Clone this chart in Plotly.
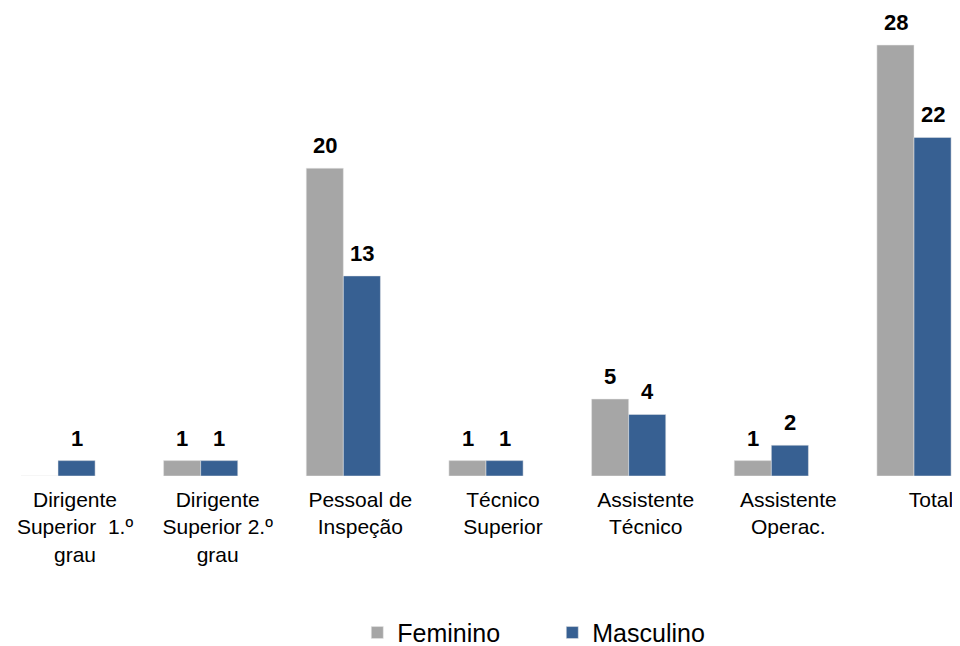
import plotly.graph_objects as go

categories = [
    "Dirigente<br>Superior  1.º<br>grau",
    "Dirigente<br>Superior 2.º<br>grau",
    "Pessoal de<br>Inspeção",
    "Técnico<br>Superior",
    "Assistente<br>Técnico",
    "Assistente<br>Operac.",
    "Total",
]
feminino = [0, 1, 20, 1, 5, 1, 28]
masculino = [1, 1, 13, 1, 4, 2, 22]

BAR_PX = 37

fig = go.Figure()
fig.add_trace(go.Bar(
    name="Feminino", x=categories, y=feminino,
    marker=dict(color="#A6A6A6", line=dict(color="#E8E8E8", width=0.5)),
))
fig.add_trace(go.Bar(
    name="Masculino", x=categories, y=masculino,
    marker=dict(color="#376092", line=dict(color="#E8E8E8", width=0.5)),
))

for vals, shift in ((feminino, -BAR_PX / 2), (masculino, BAR_PX / 2)):
    for cat, v in zip(categories, vals):
        if v:
            fig.add_annotation(
                x=cat, y=v, text=str(v), showarrow=False,
                xshift=shift, yshift=8, yanchor="bottom",
                font=dict(family="Liberation Sans, Arial", size=22, color="black", weight="bold"),
            )

# The page body adds an 8px margin, so the figure is sized to fit the window.
fig.update_layout(
    width=952, height=638,
    paper_bgcolor="white", plot_bgcolor="white",
    barmode="group", bargap=0.48, bargroupgap=0,
    margin=dict(l=0, r=0, t=12, b=170, autoexpand=False),
    font=dict(family="Liberation Sans, Arial", color="black"),
    showlegend=True,
    legend=dict(orientation="h", x=0.3669, xanchor="left", y=-0.2934, yanchor="top",
                font=dict(size=25), entrywidth=150, traceorder="normal"),
)
fig.update_xaxes(range=[-0.3505, 6.3224], showline=False, showgrid=False, ticks="",
                 tickfont=dict(size=21), ticklabelstandoff=9, ticklabelshift=17,
                 ticklabeloverflow="allow", automargin=False)
fig.update_yaxes(range=[0, 29.63], visible=False, showgrid=False, zeroline=False,
                 automargin=False)

fig.write_html("out.html")
